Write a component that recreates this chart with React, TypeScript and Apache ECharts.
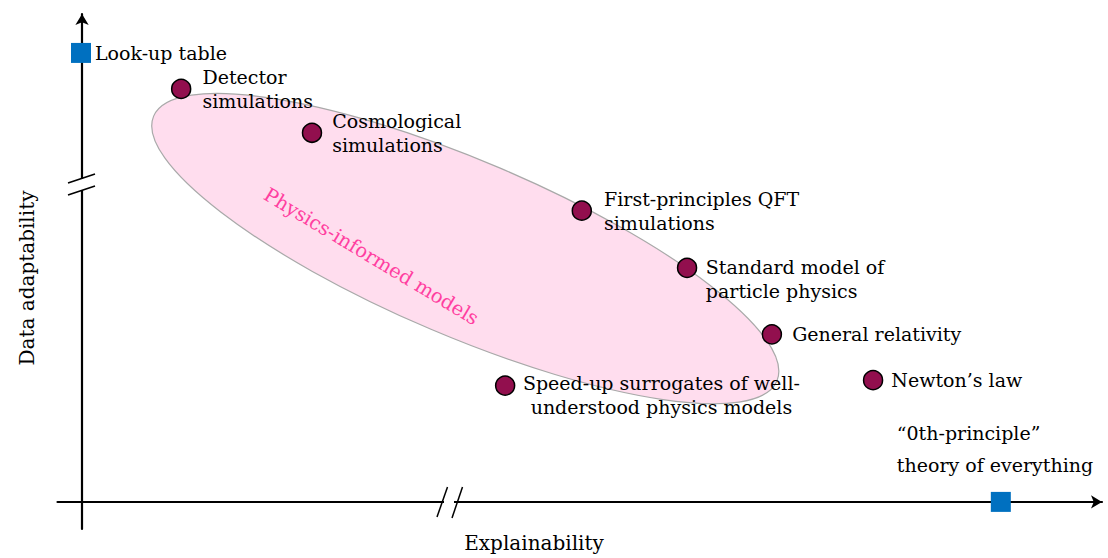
import React, { useEffect, useRef } from "react";
import * as echarts from "echarts";

// ---- data (abstract units: x = explainability, y = data adaptability) ----
const circleNames = [
  "Detector\nsimulations",
  "Cosmological\nsimulations",
  "First-principles QFT\nsimulations",
  "Standard model of\nparticle physics",
  "General relativity",
  "Newton’s law",
  "Speed-up surrogates of well-\nunderstood physics models",
];
const circleX = [0.97, 2.25, 4.89, 5.92, 6.75, 7.74, 4.14];
const circleY = [8.38, 7.49, 5.91, 4.75, 3.4, 2.47, 2.36];

const squareNames = ["Look-up table", "“0th-principle”\ntheory of everything"];
const squareX = [-0.01, 8.99];
const squareY = [9.11, 0];

// ellipse "Physics-informed models": major-axis end points
const ellipseEnds = [0.7, 7.83, 6.8, 2.45];
const ellipseLabel = "Physics-informed models";
const ellipseLabelPos = [2.83, 4.98];

const xTitle = "Explainability";
const yTitle = "Data adaptability";

const FONT = "DejaVu Serif";

export default function App() {
  const ref = useRef<HTMLDivElement>(null);
  useEffect(() => {
    if (!ref.current) return;
    const chart = echarts.init(ref.current, undefined, { renderer: "svg" });

    const circleLabelPos: any[] = [
      { position: "right", distance: 11 },
      { position: "right", distance: 10 },
      { position: "right", distance: 12 },
      { position: [29, 21.5], align: "left", verticalAlign: "middle" },
      { position: "right", distance: 10 },
      { position: "right", distance: 8 },
      { position: [166.5, 20], align: "center", verticalAlign: "middle" },
    ];

    const circleData = circleNames.map((n, i) => ({
      name: n,
      value: [circleX[i], circleY[i]],
      label: circleLabelPos[i],
    }));

    const squareLabelPos: any[] = [
      { position: "right", distance: 4 },
      { position: [-94, -43], align: "left", verticalAlign: "middle", lineHeight: 32 },
    ];
    const squareData = squareNames.map((n, i) => ({
      name: n,
      value: [squareX[i], squareY[i]],
      label: squareLabelPos[i],
    }));

    const labelBase = {
      show: true,
      formatter: "{b}",
      color: "#000",
      opacity: 1,
      fontFamily: FONT,
      fontSize: 19,
      lineHeight: 24,
    };

    chart.setOption({
      animation: false,
      backgroundColor: "#fff",
      grid: { left: 57.5, right: 6, top: 14, bottom: 29 },
      xAxis: {
        type: "value",
        min: -0.24,
        max: 9.98,
        axisLine: {
          onZero: true,
          lineStyle: { color: "#000", width: 2.2 },
          symbol: ["none", "arrow"],
          symbolSize: [10, 11],
        },
        axisTick: { show: false },
        axisLabel: { show: false },
        splitLine: { show: false },
      },
      yAxis: {
        type: "value",
        min: -0.55,
        max: 9.9,
        axisLine: {
          onZero: true,
          lineStyle: { color: "#000", width: 2.2 },
          symbol: ["none", "arrow"],
          symbolSize: [10, 11],
        },
        axisTick: { show: false },
        axisLabel: { show: false },
        splitLine: { show: false },
      },
      series: [
        {
          type: "custom",
          z: 1,
          silent: true,
          dimensions: ["x1", "y1", "x2", "y2"],
          encode: { x: [0, 2], y: [1, 3] },
          data: [ellipseEnds],
          renderItem: (params: any, api: any) => {
            const p1 = api.coord([api.value(0), api.value(1)]);
            const p2 = api.coord([api.value(2), api.value(3)]);
            const cx = (p1[0] + p2[0]) / 2;
            const cy = (p1[1] + p2[1]) / 2;
            const dx = p2[0] - p1[0];
            const dy = p2[1] - p1[1];
            const a = Math.sqrt(dx * dx + dy * dy) / 2;
            const ang = Math.atan2(dy, dx);
            return {
              type: "ellipse",
              x: cx,
              y: cy,
              rotation: -ang,
              shape: { cx: 0, cy: 0, rx: a, ry: a * 0.259 },
              style: { fill: "#FFDDEE", stroke: "#A9A9A9", lineWidth: 1.2 },
            };
          },
        },
        {
          type: "scatter",
          z: 2,
          symbolSize: 0,
          silent: true,
          itemStyle: { opacity: 1 },
          data: [{ name: ellipseLabel, value: ellipseLabelPos }],
          label: {
            show: true,
            formatter: "{b}",
            position: "inside",
            rotate: -31,
            color: "#FF3FA0",
            fontFamily: FONT,
            fontSize: 19.5,
          },
        },
        {
          type: "scatter",
          z: 3,
          symbol: "circle",
          symbolSize: 19,
          itemStyle: { color: "#920F4E", borderColor: "#000", borderWidth: 1.5, opacity: 1 },
          label: labelBase,
          data: circleData,
        },
        {
          type: "scatter",
          z: 3,
          symbol: "rect",
          symbolSize: 20,
          itemStyle: { color: "#0070C0", opacity: 1 },
          label: labelBase,
          data: squareData,
        },
      ],
      graphic: [
        // y-axis break
        { type: "rect", z: 100, shape: { x: 76, y: 179, width: 12, height: 11 }, style: { fill: "#fff" } },
        { type: "line", z: 101, shape: { x1: 68, y1: 183, x2: 95, y2: 174 }, style: { stroke: "#000", lineWidth: 1.5 } },
        { type: "line", z: 101, shape: { x1: 68, y1: 195, x2: 95, y2: 186 }, style: { stroke: "#000", lineWidth: 1.5 } },
        // x-axis break
        { type: "rect", z: 100, shape: { x: 444, y: 497, width: 10, height: 10 }, style: { fill: "#fff" } },
        { type: "line", z: 101, shape: { x1: 437, y1: 517, x2: 447.5, y2: 487 }, style: { stroke: "#000", lineWidth: 1.5 } },
        { type: "line", z: 101, shape: { x1: 452, y1: 518, x2: 462.5, y2: 487 }, style: { stroke: "#000", lineWidth: 1.5 } },
        // axis titles
        {
          type: "text",
          z: 100,
          x: 534,
          y: 543,
          style: { text: xTitle, font: `20px "${FONT}"`, fill: "#000", align: "center", verticalAlign: "middle" },
        },
        {
          type: "text",
          z: 100,
          x: 27,
          y: 278,
          rotation: Math.PI / 2,
          style: { text: yTitle, font: `20px "${FONT}"`, fill: "#000", align: "center", verticalAlign: "middle" },
        },
      ],
    });
    return () => chart.dispose();
  }, []);
  return (
    <div
      ref={ref}
      style={{ position: "absolute", left: 0, top: 0, width: 1108, height: 558 }}
    />
  );
}
